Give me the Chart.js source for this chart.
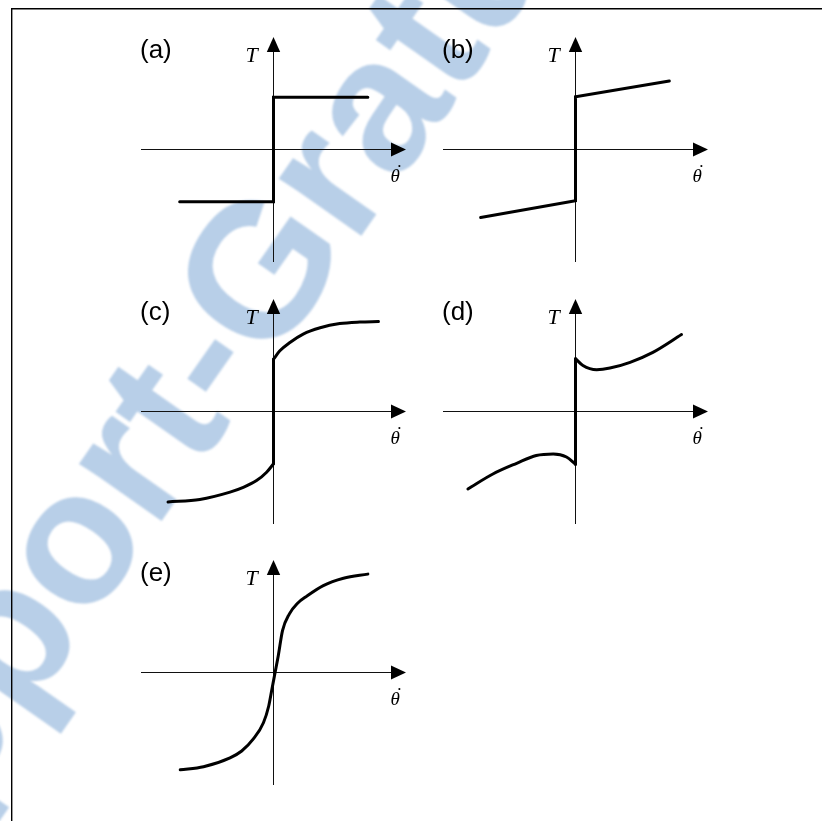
<!DOCTYPE html>
<html>
<head>
<meta charset="utf-8">
<script src="https://cdn.jsdelivr.net/npm/chart.js@4.4.1/dist/chart.umd.min.js"></script>
<style>
  html, body { margin: 0; padding: 0; background: #fff; }
  body { width: 822px; height: 821px; position: relative; overflow: hidden; }
  canvas { position: absolute; }
</style>
</head>
<body>
<canvas id="fond" width="822" height="821" style="left:0;top:0"></canvas>
<canvas id="pa" width="295" height="262" style="left:125px;top:25px"></canvas>
<canvas id="pb" width="295" height="262" style="left:427px;top:25px"></canvas>
<canvas id="pc" width="295" height="262" style="left:125px;top:287px"></canvas>
<canvas id="pd" width="295" height="262" style="left:427px;top:287px"></canvas>
<canvas id="pe" width="295" height="262" style="left:125px;top:548px"></canvas>
<script>
// limites des axes, communes aux cinq panneaux
const xLim = 2.5;
const yLim = 2.15;

// (a) frottement sec
const aX = [-1.77, 0, 0, 1.78];
const aY = [-1, -1, 1, 1];

// (b) sec + visqueux
const bX = [-1.79, 0, 0, 1.77];
const bY = [-1.3, -0.98, 1.01, 1.31];

// (c)
const cNegX = [-1.99, -1.39, -0.82, -0.57, -0.32, -0.13, 0];
const cNegY = [-1.73, -1.68, -1.54, -1.45, -1.32, -1.16, -1.0];
const cPosX = [0, 0.12, 0.31, 0.56, 0.88, 1.25, 1.63, 1.98];
const cPosY = [1.0, 1.16, 1.32, 1.48, 1.60, 1.68, 1.71, 1.72];

// (d) effet Stribeck
const dNegX = [-2.03, -1.55, -1.11, -0.74, -0.42, -0.17, 0];
const dNegY = [-1.48, -1.19, -0.99, -0.84, -0.81, -0.87, -1.01];
const dPosX = [0, 0.14, 0.40, 0.65, 1.03, 1.46, 2.0];
const dPosY = [1.01, 0.88, 0.80, 0.83, 0.94, 1.13, 1.47];

// (e) modele continu
const eX = [-1.76, -1.32, -0.82, -0.60, -0.38, -0.19, -0.09, -0.03, 0.03, 0.09, 0.17, 0.30, 0.45, 0.63, 0.94, 1.32, 1.78];
const eY = [-1.86, -1.80, -1.63, -1.50, -1.27, -0.96, -0.64, -0.32, 0, 0.32, 0.80, 1.12, 1.32, 1.46, 1.66, 1.80, 1.88];

const lettres = ['(a)', '(b)', '(c)', '(d)', '(e)'];
const nomY = 'T';
const nomX = '\u03B8';
const point = '\u02D9';
const filigrane = 'Rapport-Gratuit.com';

function pts(xs, ys) {
    return xs.map((v, i) => ({ x: v, y: ys[i] }));
}

function trait(xs, ys, lisse) {
    return {
        data: pts(xs, ys),
        borderColor: '#000',
        borderWidth: 3,
        pointRadius: 0,
        showLine: true,
        fill: false,
        borderCapStyle: 'round',
        borderJoinStyle: 'miter',
        cubicInterpolationMode: lisse ? 'monotone' : 'default',
        tension: 0
    };
}

// saut vertical a vitesse nulle, entre les deux branches
function saut(negX, negY, posX, posY) {
    return trait([negX[negX.length - 1], posX[0]], [negY[negY.length - 1], posY[0]], false);
}

// axes fleches + textes
const axesFleches = {
    id: 'axesFleches',
    beforeDatasetsDraw(chart) {
        const { ctx, chartArea: ca, scales: { x, y } } = chart;
        const x0 = x.getPixelForValue(0);
        const y0 = y.getPixelForValue(0);
        ctx.save();
        ctx.strokeStyle = '#111';
        ctx.fillStyle = '#000';
        ctx.lineWidth = 1;
        ctx.beginPath();
        ctx.moveTo(ca.left, y0);
        ctx.lineTo(ca.right - 10, y0);
        ctx.moveTo(x0, ca.bottom);
        ctx.lineTo(x0, ca.top + 10);
        ctx.stroke();
        ctx.beginPath();
        ctx.moveTo(ca.right, y0);
        ctx.lineTo(ca.right - 15, y0 - 7);
        ctx.lineTo(ca.right - 15, y0 + 7);
        ctx.closePath();
        ctx.fill();
        ctx.beginPath();
        ctx.moveTo(x0, ca.top);
        ctx.lineTo(x0 - 6.7, ca.top + 15);
        ctx.lineTo(x0 + 6.7, ca.top + 15);
        ctx.closePath();
        ctx.fill();

        ctx.textAlign = 'left';
        ctx.textBaseline = 'alphabetic';
        ctx.font = '26px "Liberation Sans", Arial, sans-serif';
        ctx.fillText(chart.options.plugins.axesFleches.lettre, ca.left - 1, y0 - 92);
        ctx.font = 'italic 22px "Liberation Serif", "Times New Roman", serif';
        ctx.fillText(nomY, x0 - 28, y0 - 88);
        // theta avec son point de derivee
        ctx.font = 'italic 19px "Liberation Serif", "Times New Roman", serif';
        const tx = x0 + 117;
        const w = ctx.measureText(nomX).width;
        ctx.fillText(nomX, tx, y0 + 32);
        ctx.textAlign = 'center';
        ctx.fillText(point, tx + w * 0.5 + 3, y0 + 28);
        ctx.restore();
    }
};

function panneau(id, lettre, datasets) {
    new Chart(document.getElementById(id), {
        type: 'scatter',
        data: { datasets: datasets },
        options: {
            responsive: false,
            animation: false,
            layout: { padding: { left: 16, right: 14, top: 12, bottom: 25 } },
            scales: {
                x: { type: 'linear', min: -xLim, max: xLim, display: false },
                y: { type: 'linear', min: -yLim, max: yLim, display: false }
            },
            plugins: {
                legend: { display: false },
                tooltip: { enabled: false },
                axesFleches: { lettre: lettre }
            }
        },
        plugins: [axesFleches]
    });
}

panneau('pa', lettres[0], [trait(aX, aY, false)]);
panneau('pb', lettres[1], [trait(bX, bY, false)]);
panneau('pc', lettres[2], [
    trait(cNegX, cNegY, true),
    saut(cNegX, cNegY, cPosX, cPosY),
    trait(cPosX, cPosY, true)
]);
panneau('pd', lettres[3], [
    trait(dNegX, dNegY, true),
    saut(dNegX, dNegY, dPosX, dPosY),
    trait(dPosX, dPosY, true)
]);
panneau('pe', lettres[4], [trait(eX, eY, true)]);

// filigrane en diagonale, puis le cadre
const fond = document.getElementById('fond').getContext('2d');
fond.save();
fond.translate(-185, 1016);
fond.rotate(-55 * Math.PI / 180);
fond.font = 'bold 190px "Liberation Sans", Arial, sans-serif';
fond.fillStyle = '#b8cfe8';
fond.filter = 'blur(0.8px)';
fond.fillText(filigrane, 0, 0);
fond.restore();

fond.strokeStyle = '#000';
fond.lineWidth = 1.4;
fond.beginPath();
fond.moveTo(11.7, 821);
fond.lineTo(11.7, 8.7);
fond.lineTo(822, 8.7);
fond.stroke();
</script>
</body>
</html>
